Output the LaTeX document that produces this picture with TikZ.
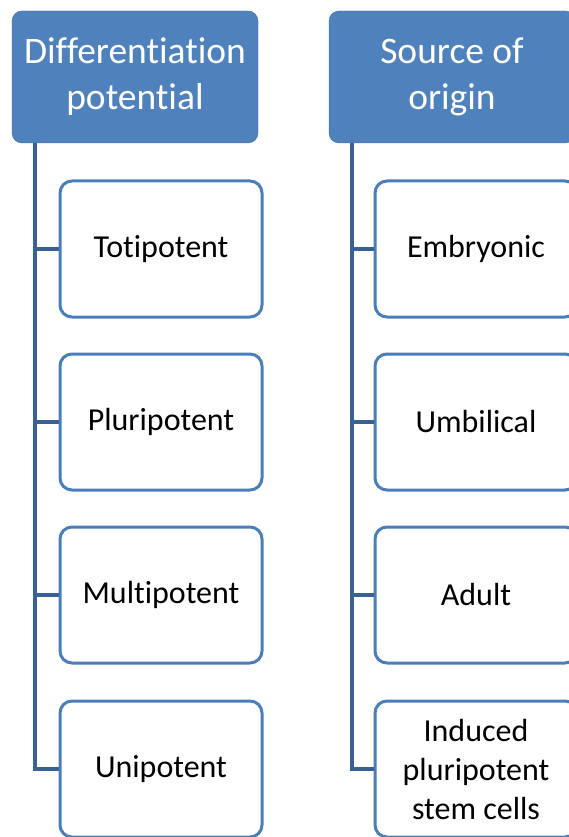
\documentclass[tikz,border=0pt]{standalone}
\usepackage{fontspec}
\setmainfont{Carlito}[RawFeature={-liga;-clig;-dlig;-calt}]
\usepackage{tikz}
\usepackage{xcolor}
\definecolor{hdrblue}{HTML}{4F81BD}
\definecolor{boxblue}{HTML}{4A7EBB}
\definecolor{lineblue}{HTML}{3A6196}
\tikzset{
    header-box/.style = {draw=hdrblue!85!black, fill=hdrblue, thin, rectangle, rounded corners=10pt, text=white, align=center, minimum width=246pt, minimum height=132pt, font=\fontsize{37.5}{46}\selectfont},
    item-box/.style = {draw=boxblue, fill=white, line width=3pt, rectangle, rounded corners=12pt, align=center, minimum width=202pt, minimum height=136pt, font=\fontsize{32}{40}\selectfont},
    trunk-line/.style = {draw=lineblue, line width=3.5pt},
}

\begin{document}
\begin{tikzpicture}[x=1pt,y=-1pt]
\useasboundingbox (0,0) rectangle (569,837);
\clip (0,0) rectangle (569,837);
\fill[white] (0,0) rectangle (569,837);

% differentiation potential
\node [header-box] (diff) at (135,77) {Differentiation\\potential};
\node [item-box] (toti) at (161,249) {Totipotent};
\node [item-box] (pluri) at (161,422) {Pluripotent};
\node [item-box] (multi) at (161,595) {Multipotent};
\node [item-box] (uni) at (161,769) {Unipotent};
\coordinate (dtop) at ([xshift=23pt]diff.south west);
\draw [trunk-line] (dtop) |- (uni.west);
\foreach \n in {toti,pluri,multi}
    \draw [trunk-line] (\n.west) -- (\n.west -| dtop);

% source of origin
\node [header-box] (src) at (452,77) {Source of\\origin};
\node [item-box] (emb) at (476,249) {Embryonic};
\node [item-box] (umb) at (476,422) {Umbilical};
\node [item-box] (adult) at (476,595) {Adult};
\node [item-box, font=\fontsize{32}{39}\selectfont] (ipsc) at (476,769) {Induced\\pluripotent\\stem cells};
\coordinate (stop) at ([xshift=23pt]src.south west);
\draw [trunk-line] (stop) |- (ipsc.west);
\foreach \n in {emb,umb,adult}
    \draw [trunk-line] (\n.west) -- (\n.west -| stop);
\end{tikzpicture}
\end{document}
